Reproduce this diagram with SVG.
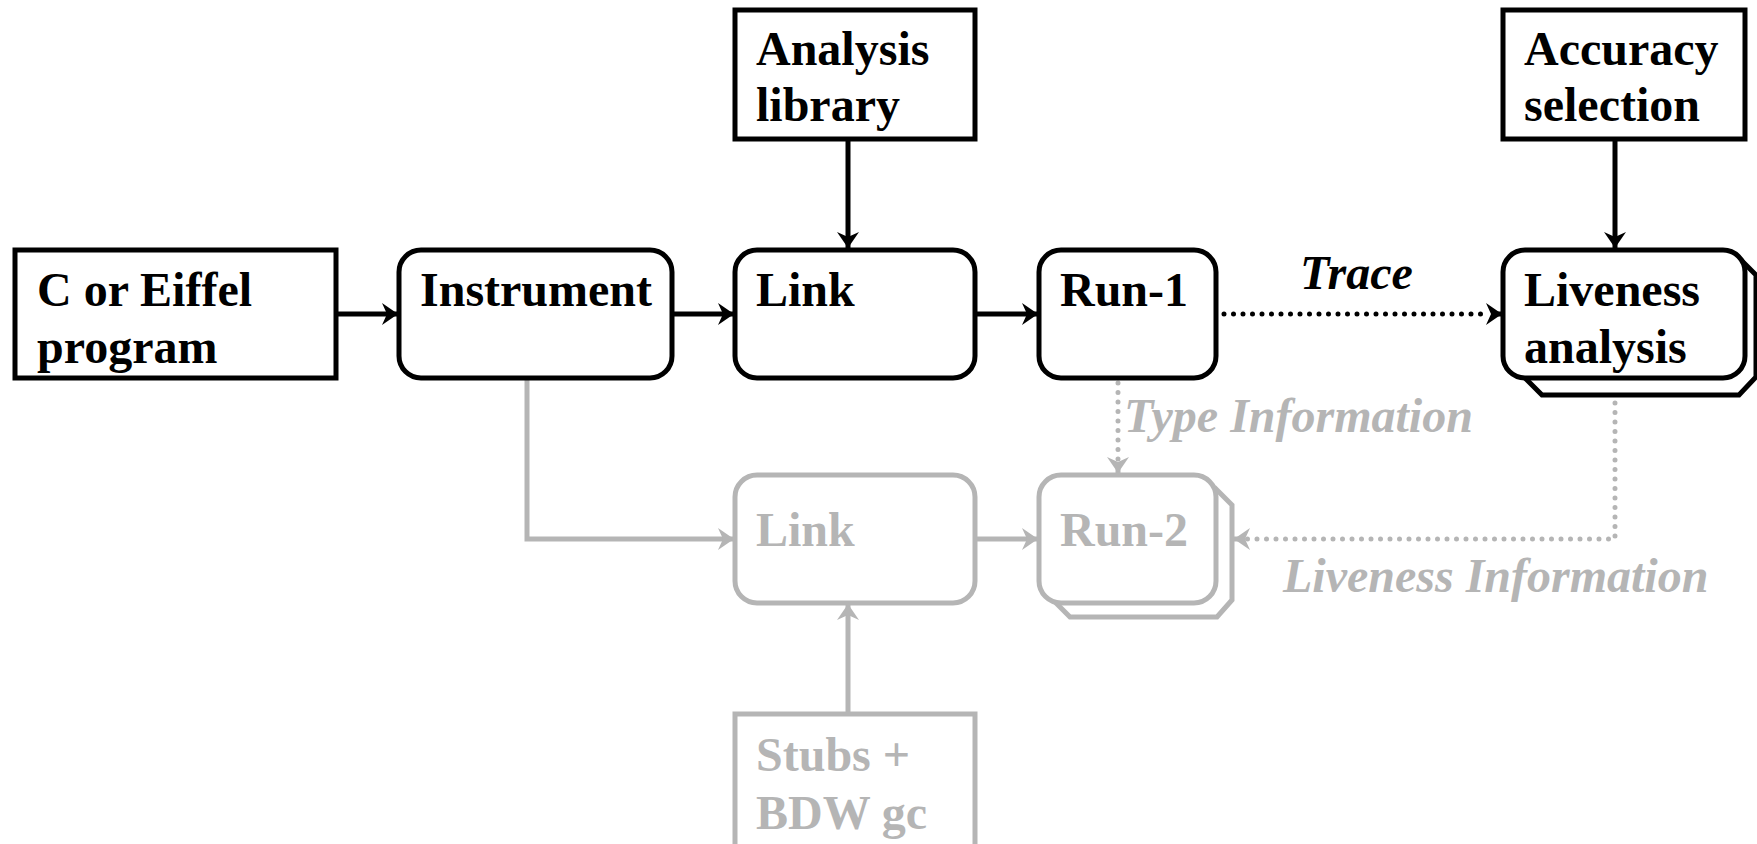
<svg xmlns="http://www.w3.org/2000/svg" width="1757" height="844" viewBox="0 0 1757 844">
<style>
.t{font-family:"Liberation Serif","Times New Roman",serif;font-weight:bold;font-size:48px;fill:#000}
.g{fill:#b5b5b5}
.i{font-style:italic}
.box{fill:#fff;stroke:#000;stroke-width:5}
.gbox{fill:#fff;stroke:#b5b5b5;stroke-width:5}
.ln{fill:none;stroke:#000;stroke-width:5}
.gln{fill:none;stroke:#b5b5b5;stroke-width:5}
.dot{stroke-dasharray:0 9.5;stroke-linecap:round}
</style>
<defs>
<marker id="ab" markerUnits="userSpaceOnUse" markerWidth="20" markerHeight="24" refX="16" refY="11" orient="auto" overflow="visible">
<path d="M0,0 L16,11 L0,22 L5,11 z" fill="#000"/>
</marker>
<marker id="ag" markerUnits="userSpaceOnUse" markerWidth="20" markerHeight="24" refX="16" refY="11" orient="auto" overflow="visible">
<path d="M0,0 L16,11 L0,22 L5,11 z" fill="#b5b5b5"/>
</marker>
</defs>
<rect width="1757" height="844" fill="#fff"/>
<g id="connectors">
<path class="ln" d="M336,314 L398,314" marker-end="url(#ab)"/>
<path class="ln" d="M672,314 L734,314" marker-end="url(#ab)"/>
<path class="ln" d="M975,314 L1038,314" marker-end="url(#ab)"/>
<path class="ln dot" d="M1224,314 L1490,314"/>
<path class="ln" d="M1492,314 L1502,314" marker-end="url(#ab)"/>
<path class="ln" d="M848,139 L848,248" marker-end="url(#ab)"/>
<path class="ln" d="M1615,139 L1615,248" marker-end="url(#ab)"/>
<path class="gln" d="M527,379 L527,539 L734,539" marker-end="url(#ag)"/>
<path class="gln" d="M975,539 L1038,539" marker-end="url(#ag)"/>
<path class="gln dot" d="M1118,383 L1118,462"/>
<path class="gln" d="M1118,464 L1118,473" marker-end="url(#ag)"/>
<path class="gln dot" d="M1615,403 L1615,539 L1246,539"/>
<path class="gln" d="M1244,539 L1234,539" marker-end="url(#ag)"/>
<path class="gln" d="M848,714 L848,604" marker-end="url(#ag)"/>
<text class="t i" x="1300" y="289">Trace</text>
<text class="t i g" x="1124" y="432">Type Information</text>
<text class="t i g" x="1283" y="592">Liveness Information</text>
</g>
<g id="program">
<rect class="box" x="15" y="250" width="321" height="128"/>
<text class="t" x="37" y="306">C or Eiffel</text>
<text class="t" x="37" y="363">program</text>
</g>
<g id="instrument">
<rect class="box" x="399" y="250" width="273" height="128" rx="22"/>
<text class="t" x="420" y="306">Instrument</text>
</g>
<g id="analysis-library">
<rect class="box" x="735" y="10" width="240" height="129"/>
<text class="t" x="756" y="65">Analysis</text>
<text class="t" x="756" y="121">library</text>
</g>
<g id="link1">
<rect class="box" x="735" y="250" width="240" height="128" rx="22"/>
<text class="t" x="756" y="306">Link</text>
</g>
<g id="run1">
<rect class="box" x="1039" y="250" width="177" height="128" rx="22"/>
<text class="t" x="1060" y="306">Run-1</text>
</g>
<g id="accuracy-selection">
<rect class="box" x="1503" y="10" width="242" height="129"/>
<text class="t" x="1524" y="65">Accuracy</text>
<text class="t" x="1524" y="121">selection</text>
</g>
<g id="liveness-analysis">
<polygon class="box" points="1522,256 1737,256 1756,275 1756,377 1739,395 1542,395 1522,375"/>
<rect class="box" x="1503" y="250" width="242" height="128" rx="22"/>
<text class="t" x="1524" y="306">Liveness</text>
<text class="t" x="1524" y="363">analysis</text>
</g>
<g id="link2">
<rect class="gbox" x="735" y="475" width="240" height="128" rx="22"/>
<text class="t g" x="756" y="546">Link</text>
</g>
<g id="run2">
<polygon class="gbox" points="1053,488 1215,488 1232,505 1232,600 1217,617 1070,617 1053,600"/>
<rect class="gbox" x="1039" y="475" width="177" height="128" rx="22"/>
<text class="t g" x="1060" y="546">Run-2</text>
</g>
<g id="stubs">
<rect class="gbox" x="735" y="714" width="240" height="134"/>
<text class="t g" x="756" y="771">Stubs +</text>
<text class="t g" x="756" y="829">BDW gc</text>
</g>
</svg>
